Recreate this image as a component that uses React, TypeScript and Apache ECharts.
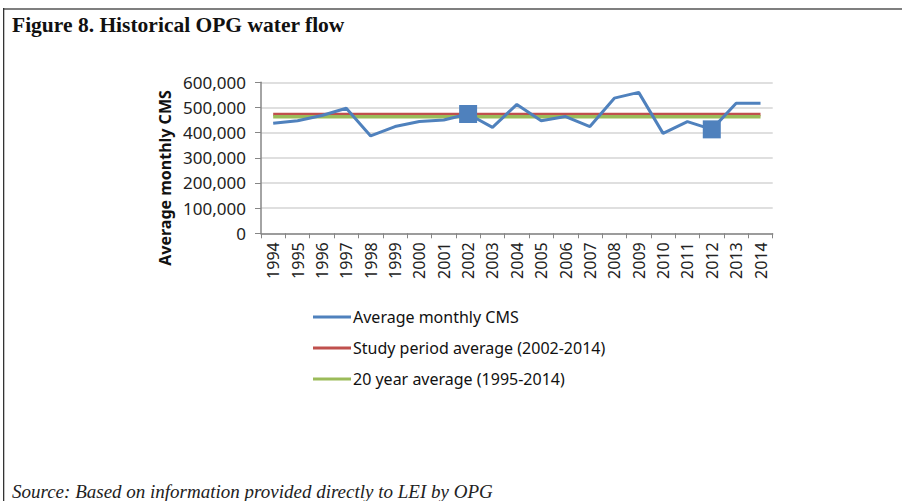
import React, { useEffect, useRef } from "react";
import * as echarts from "echarts";

const years = ["1994","1995","1996","1997","1998","1999","2000","2001","2002","2003","2004","2005","2006","2007","2008","2009","2010","2011","2012","2013","2014"];
const monthlyCMS = [437000,447000,468000,497000,387000,424000,444000,450000,474000,421000,512000,447000,464000,424000,537000,560000,397000,444000,413000,517000,517000];
const markedYears = ["2002","2012"];
const studyAvg = [472000,472000,472000,472000,472000,472000,472000,472000,472000,472000,472000,472000,472000,472000,472000,472000,472000,472000,472000,472000,472000];
const twentyYearAvg = [463000,463000,463000,463000,463000,463000,463000,463000,463000,463000,463000,463000,463000,463000,463000,463000,463000,463000,463000,463000,463000];
const seriesNames = ["Average monthly CMS","Study period average (2002-2014)","20 year average (1995-2014)"];
const yTicks = [0,100000,200000,300000,400000,500000,600000];

export default function App() {
  const ref = useRef<HTMLDivElement>(null);
  useEffect(() => {
    document.body.style.margin = "0";
    const chart = echarts.init(ref.current!, null, { renderer: "svg" });
    const font = "'Noto Sans', sans-serif";
    chart.setOption({
      animation: false,
      backgroundColor: "#ffffff",
      grid: { left: 261, right: 129.3, top: 82.3, bottom: 267.7, containLabel: false },
      xAxis: {
        type: "category",
        data: years,
        boundaryGap: true,
        axisLine: { lineStyle: { color: "#868686", width: 1.5 } },
        axisTick: { show: true, interval: 0, length: 5, lineStyle: { color: "#868686" } },
        axisLabel: { interval: 0, rotate: 90, margin: 9, color: "#222", fontFamily: font, fontSize: 16 },
        splitLine: { show: false },
      },
      yAxis: {
        type: "value",
        min: yTicks[0],
        max: yTicks[yTicks.length - 1],
        interval: 100000,
        axisLine: { show: true, lineStyle: { color: "#868686", width: 1.5 } },
        axisTick: { show: true, length: 6, lineStyle: { color: "#868686" } },
        axisLabel: {
          margin: 15,
          color: "#222",
          fontFamily: font,
          fontSize: 17,
          formatter: (v: number) => v.toLocaleString("en-US"),
        },
        splitLine: { lineStyle: { color: "#d4d4d4", width: 1.5 } },
      },
      legend: {
        orient: "vertical",
        left: 308,
        top: 304,
        itemGap: 15,
        itemWidth: 38,
        itemHeight: 3,
        icon: "rect",
        textStyle: { fontFamily: font, fontSize: 16, color: "#111", padding: [0, 0, 0, -3] },
        data: seriesNames,
      },
      graphic: [
        { type: "rect", shape: { x: 3, y: 8, width: 899, height: 2 }, style: { fill: "#7f7f7f" } },
        { type: "rect", shape: { x: 3, y: 8, width: 1.3, height: 493 }, style: { fill: "#333" } },
        {
          type: "text", x: 12, y: 25,
          style: { text: "Figure 8. Historical OPG water flow", font: "bold 21.5px 'Liberation Serif', serif", fill: "#111", textVerticalAlign: "middle" },
        },
        {
          type: "text", x: 165, y: 178, rotation: Math.PI / 2,
          style: { text: "Average monthly CMS", font: "bold 16px 'Noto Sans', sans-serif", fill: "#111", textAlign: "center", textVerticalAlign: "middle" },
        },
        {
          type: "text", x: 12, y: 491,
          style: { text: "Source: Based on information provided directly to LEI by OPG", font: "italic 19px 'Liberation Serif', serif", fill: "#222", textVerticalAlign: "middle" },
        },
      ],
      series: [
        {
          name: seriesNames[0],
          type: "line",
          z: 3,
          data: monthlyCMS.map((v, i) =>
            markedYears.includes(years[i])
              ? { value: v, symbol: "rect", symbolSize: 18 }
              : { value: v, symbol: "none" }
          ),
          lineStyle: { color: "#4F81BD", width: 3 },
          itemStyle: { color: "#4F81BD" },
          color: "#4F81BD",
        },
        {
          name: seriesNames[1],
          type: "line",
          z: 2,
          data: studyAvg,
          symbol: "none",
          lineStyle: { color: "#C0504D", width: 3.5 },
          color: "#C0504D",
        },
        {
          name: seriesNames[2],
          type: "line",
          z: 2,
          data: twentyYearAvg,
          symbol: "none",
          lineStyle: { color: "#9BBB59", width: 3.5 },
          color: "#9BBB59",
        },
      ],
    });
    return () => chart.dispose();
  }, []);
  return <div ref={ref} style={{ width: 902, height: 501 }} />;
}
